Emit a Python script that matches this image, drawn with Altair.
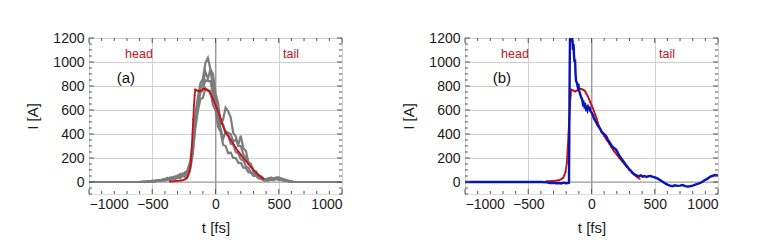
import altair as alt
import pandas as pd

# ---------------- data ----------------
T_GRAY = [-1000,
          -600, -580, -560, -540, -520, -500, -480, -460, -440, -420,
          -400, -380, -360, -340, -320, -300, -280, -260, -240, -220,
          -200, -180, -160, -140, -120, -100, -80, -60, -40, -20,
          0, 20, 40, 60, 80, 100, 120, 140, 160, 180,
          200, 220, 240, 260, 280, 300, 320, 340, 360, 380,
          400, 420, 440, 460, 480, 500, 520, 540, 560, 580,
          600, 620, 640,
          1000]

GRAY_1 = [0,
          0, 4, 0, 6, 3, 10, 5, 14, 9, 22,
          15, 30, 24, 40, 28, 55, 42, 72, 60, 105,
          170, 330, 560, 700, 820, 860, 990, 1035, 940, 900,
          740, 660, 500, 480, 400, 395, 320, 310, 250, 240,
          190, 180, 130, 120, 80, 75, 50, 45, 25, 22,
          12, 22, 20, 34, 24, 35, 20, 24, 10, 8,
          2, 0, 0,
          0]

GRAY_2 = [0,
          0, 0, 5, 2, 8, 3, 13, 8, 18, 14,
          28, 18, 38, 30, 48, 40, 66, 52, 82, 90,
          140, 280, 520, 660, 780, 820, 920, 860, 940, 780,
          700, 540, 480, 520, 620, 590, 540, 410, 380, 300,
          300, 230, 200, 150, 140, 95, 85, 55, 45, 22,
          20, 28, 24, 18, 38, 26, 32, 14, 18, 6,
          3, 0, 0,
          0]

GRAY_3 = [0,
          0, 0, 0, 3, 1, 6, 4, 10, 7, 14,
          12, 22, 16, 30, 24, 36, 32, 50, 42, 75,
          105, 230, 440, 590, 690, 700, 780, 760, 760, 640,
          600, 460, 420, 310, 300, 240, 245, 200, 200, 160,
          160, 120, 118, 82, 78, 50, 50, 30, 28, 14,
          16, 12, 22, 16, 26, 16, 20, 10, 12, 3,
          3, 0, 0,
          0]

GRAY_4 = [0,
          0, 2, 0, 5, 2, 11, 6, 14, 12, 20,
          18, 34, 22, 42, 36, 48, 50, 68, 62, 95,
          125, 260, 480, 620, 740, 770, 850, 840, 840, 740,
          660, 500, 450, 360, 420, 410, 400, 340, 350, 310,
          385, 280, 260, 165, 150, 95, 88, 50, 48, 24,
          26, 30, 38, 22, 34, 40, 20, 26, 10, 12,
          3, 0, 0,
          0]

RED_T = [-360, -340, -320, -300, -280, -260, -240, -225, -215, -205,
         -195, -188, -182, -176, -170, -165, -160, -150, -140, -130,
         -120, -110, -100, -90, -80, -70, -60, -50, -40, -30,
         -20, -10, 0, 10, 20, 30, 40, 50, 60, 70,
         80, 100, 120, 140, 160, 180, 200, 220, 240, 260,
         280, 300, 320, 340, 360, 380]
RED_I = [5, 6, 8, 10, 12, 15, 22, 35, 55, 85,
         160, 280, 400, 520, 640, 720, 770, 765, 760, 755,
         760, 765, 772, 778, 775, 770, 765, 755, 735, 715,
         690, 665, 640, 615, 590, 560, 530, 495, 465, 440,
         415, 385, 350, 320, 285, 255, 228, 200, 175, 150,
         125, 100, 78, 58, 42, 28]

BLUE_T = [-1000, -800, -600, -400, -350, -330, -300, -280, -260, -240,
          -220, -200, -185, -178, -176, -174, -172, -170, -165, -160,
          -155, -150, -146, -142, -138, -134, -130, -126, -122, -116,
          -110, -104, -98, -92, -86, -80, -74, -68, -62, -56,
          -50, -44, -38, -32, -26, -20, -14, -8, 0, 10,
          20, 30, 40, 50, 60, 70, 80, 90, 100, 110,
          120, 130, 140, 150, 160, 170, 180, 190, 200, 210,
          220, 230, 240, 250, 260, 270, 280, 290, 300, 310,
          320, 330, 340, 350, 360, 375, 390, 405, 420, 435,
          450, 465, 480, 500, 520, 540, 560, 580, 600, 620,
          640, 660, 680, 700, 720, 740, 760, 780, 800, 820,
          840, 860, 880, 900, 920, 940, 960, 980, 1000]
BLUE_I = [0, 0, 0, 0, -3, -8, -6, -10, -8, -12,
          -6, -10, -8, -5, 300, 700, 1000, 1190, 1200, 1170,
          1200, 1180, 1100, 1150, 1050, 1000, 1020, 900, 840, 830,
          800, 820, 760, 740, 720, 700, 690, 650, 660, 630,
          640, 610, 620, 600, 625, 610, 615, 590, 580, 560,
          530, 510, 490, 470, 455, 440, 420, 410, 400, 390,
          375, 350, 335, 320, 300, 290, 280, 275, 260, 240,
          220, 205, 190, 175, 160, 145, 132, 118, 105, 95,
          82, 72, 64, 58, 52, 48, 55, 45, 50, 42,
          48, 50, 44, 38, 30, 18, 5, -10, -22, -30,
          -35, -28, -32, -30, -25, -35, -38, -35, -30, -22,
          -15, -8, 5, 18, 30, 45, 52, 58, 55]

X_TICKS = [-1000, -500, 0, 500, 1000]
Y_TICKS = [0, 200, 400, 600, 800, 1000, 1200]
X_MINOR = [-900, -800, -700, -600, -400, -300, -200, -100,
           100, 200, 300, 400, 600, 700, 800, 900]
Y_MINOR = [-50, 50, 100, 150, 250, 300, 350, 450, 500, 550, 650, 700, 750,
           850, 900, 950, 1050, 1100, 1150]

LABEL_T = [-605, 597]
LABEL_I = [1069, 1069]
LABEL_TEXT = ["head", "tail"]

# ---------------- tables ----------------
gray_rows = []
for name, vals in [("s1", GRAY_1), ("s2", GRAY_2), ("s3", GRAY_3), ("s4", GRAY_4)]:
    for t, i in zip(T_GRAY, vals):
        gray_rows.append({"t": t, "I": i, "shot": name})
gray_df = pd.DataFrame(gray_rows)
red_df = pd.DataFrame({"t": RED_T, "I": RED_I})
blue_df = pd.DataFrame({"t": BLUE_T, "I": BLUE_I})
lab_df = pd.DataFrame({"t": LABEL_T, "I": LABEL_I, "txt": LABEL_TEXT})
xmaj_df = pd.DataFrame({"t": X_TICKS})
xmin_df = pd.DataFrame({"t": X_MINOR})
ymaj_df = pd.DataFrame({"I": Y_TICKS})
ymin_df = pd.DataFrame({"I": Y_MINOR + [-100]})

W, H = 253, 156
FONT = "Liberation Sans"

xs = alt.Scale(domain=[-1000, 1000], nice=False, zero=False)
ys = alt.Scale(domain=[-100, 1200], nice=False, zero=False)
X_AX = alt.Axis(values=X_TICKS, format="d", title="t [fs]", grid=True,
                gridColor="#cfcfcf", gridWidth=1, ticks=False, domain=False,
                labelFont=FONT, labelFontSize=14, labelColor="#1a1a1a",
                labelPadding=3, titleFont=FONT, titleFontSize=15,
                titleFontWeight="normal", titleColor="#1a1a1a", titlePadding=9)
Y_AX = alt.Axis(values=Y_TICKS, format="d", title="I [A]", grid=True,
                gridColor="#cfcfcf", gridWidth=1, ticks=False, domain=False,
                labelFont=FONT, labelFontSize=14, labelColor="#1a1a1a",
                labelPadding=5, titleFont=FONT, titleFontSize=15,
                titleFontWeight="normal", titleColor="#1a1a1a", titlePadding=12)


def X(field="t"):
    return alt.X(f"{field}:Q", scale=xs, axis=X_AX)


def Y(field="I"):
    return alt.Y(f"{field}:Q", scale=ys, axis=Y_AX)


TICK_C = "#555555"


def frame_ticks():
    layers = []
    for df, ln in [(xmaj_df, 5), (xmin_df, 3)]:
        layers.append(alt.Chart(df).mark_rule(color=TICK_C, strokeWidth=1).encode(
            x=X(), y=alt.value(H), y2=alt.value(H - ln)))
        layers.append(alt.Chart(df).mark_rule(color=TICK_C, strokeWidth=1).encode(
            x=X(), y=alt.value(0), y2=alt.value(ln)))
    for df, ln in [(ymaj_df, 5), (ymin_df, 3)]:
        layers.append(alt.Chart(df).mark_rule(color=TICK_C, strokeWidth=1).encode(
            y=Y(), x=alt.value(0), x2=alt.value(ln)))
        layers.append(alt.Chart(df).mark_rule(color=TICK_C, strokeWidth=1).encode(
            y=Y(), x=alt.value(W), x2=alt.value(W - ln)))
    return layers


def zero_lines():
    return [
        alt.Chart(pd.DataFrame({"t": [0]})).mark_rule(color="#9a9a9a", strokeWidth=1).encode(x=X()),
        alt.Chart(pd.DataFrame({"I": [0]})).mark_rule(color="#9a9a9a", strokeWidth=1).encode(y=Y()),
    ]


def labels(tag):
    head_tail = alt.Chart(lab_df).mark_text(
        font=FONT, fontSize=12.5, color="#c0141c").encode(x=X(), y=Y(), text="txt:N")
    panel = alt.Chart(pd.DataFrame({"t": [-708], "I": [864], "txt": [tag]})).mark_text(
        font=FONT, fontSize=15, color="#111111").encode(x=X(), y=Y(), text="txt:N")
    return [head_tail, panel]


RED_C = "#c0141c"
red_line = alt.Chart(red_df).mark_line(color=RED_C, strokeWidth=1.8, clip=True).encode(
    x=X(), y=Y(), order="t:Q")
red_pts = alt.Chart(red_df).mark_point(color=RED_C, size=4, filled=True, opacity=1).encode(
    x=X(), y=Y())

gray_lines = alt.Chart(gray_df).mark_line(color="#7c7c7c", strokeWidth=2.2, clip=True).encode(
    x=X(), y=Y(), detail="shot:N", order="t:Q")

blue_line = alt.Chart(blue_df).mark_line(color="#0a14b4", strokeWidth=2.4, clip=True).encode(
    x=X(), y=Y(), order="t:Q")

left = alt.layer(*zero_lines(), gray_lines, red_line, red_pts, *labels("(a)"),
                 *frame_ticks()).properties(width=W, height=H)
right = alt.layer(*zero_lines(), red_line, red_pts, blue_line, *labels("(b)"),
                  *frame_ticks()).properties(width=W, height=H)

chart = alt.hconcat(left, right, spacing=58).properties(
    padding={"left": 17, "top": 22, "right": 5, "bottom": 5}
).configure_view(stroke="#444444", strokeWidth=1).configure(background="white")

chart.save("out.html", embed_options={"renderer": "svg", "actions": False})
